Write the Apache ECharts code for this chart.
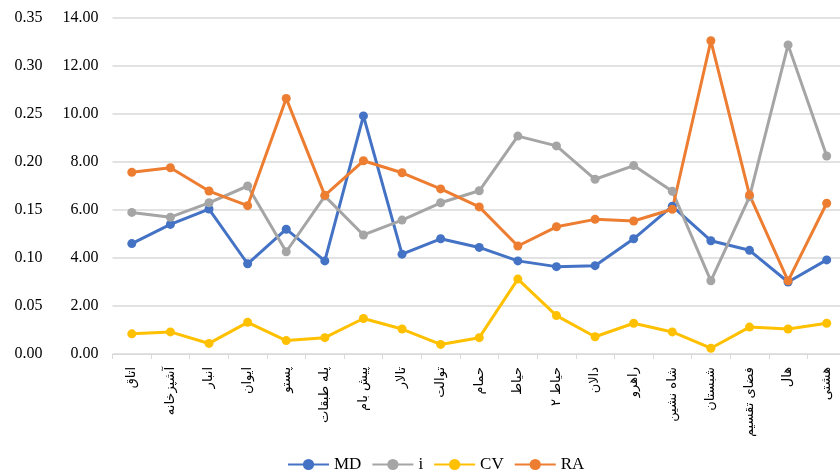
<!DOCTYPE html>
<html>
<head>
<meta charset="utf-8">
<style>
  html, body { margin: 0; padding: 0; background: #ffffff; overflow: hidden; }
  /* the drawing surface is a little wider than the window so the last category is cut at the edge */
  #chart { width: 846px; height: 472px; }
</style>
<script src="https://cdn.jsdelivr.net/npm/echarts@6/dist/echarts.min.js"></script>
</head>
<body>
<div id="chart"></div>
<script>
// Space types along the horizontal axis
var categories = ['اتاق', 'آشپزخانه', 'انبار', 'ایوان', 'پستو', 'پله طبقات', 'پیش بام', 'تالار', 'توالت', 'حمام',
  'حیاط', 'حیاط ۲', 'دالان', 'راهرو', 'شاه نشین', 'شبستان', 'فضای تقسیم', 'هال', 'هشتی'];

// Indicators on the 0–0.35 scale
var mdValues = [0.115, 0.135, 0.151, 0.094, 0.130, 0.097, 0.248, 0.104, 0.120, 0.111,
  0.097, 0.091, 0.092, 0.120, 0.154, 0.118, 0.108, 0.075, 0.098];
var cvValues = [0.021, 0.023, 0.011, 0.033, 0.014, 0.017, 0.037, 0.026, 0.010, 0.017,
  0.078, 0.040, 0.018, 0.032, 0.023, 0.006, 0.028, 0.026, 0.032];

// Indicators on the 0–14 scale
var iValues = [5.90, 5.70, 6.30, 7.00, 4.26, 6.58, 4.96, 5.58, 6.30, 6.80,
  9.08, 8.67, 7.28, 7.85, 6.78, 3.05, 6.55, 12.88, 8.25];
var raValues = [7.57, 7.76, 6.79, 6.18, 10.65, 6.61, 8.05, 7.55, 6.88, 6.13,
  4.50, 5.30, 5.61, 5.54, 6.03, 13.05, 6.63, 3.05, 6.28];

var serifFont = '"Liberation Serif", "Times New Roman", serif';
var arabicFont = '"DejaVu Sans", "Noto Sans", sans-serif';

function makeSeries(name, data, color, axisIndex) {
  return {
    name: name,
    type: 'line',
    yAxisIndex: axisIndex,
    data: data,
    symbol: 'circle',
    symbolSize: 9,
    showSymbol: true,
    lineStyle: { color: color, width: 3 },
    itemStyle: { color: color },
    emphasis: { disabled: true },
    animation: false
  };
}

var chart = echarts.init(document.getElementById('chart'), null, { renderer: 'canvas' });
chart.setOption({
  backgroundColor: '#ffffff',
  animation: false,
  grid: { left: 112.5, right: 0, top: 18, height: 336, containLabel: false },
  legend: {
    data: ['MD', 'i', 'CV', 'RA'],
    left: 282,
    top: 451,
    itemWidth: 41,
    itemHeight: 14,
    itemGap: 10,
    textStyle: { fontFamily: serifFont, fontSize: 17, color: '#000000' }
  },
  xAxis: {
    type: 'category',
    data: categories,
    boundaryGap: true,
    axisLine: { show: true, lineStyle: { color: '#d9d9d9', width: 1 } },
    axisTick: { show: true, length: 5, lineStyle: { color: '#d9d9d9' } },
    axisLabel: {
      rotate: 90,
      interval: 0,
      margin: 13,
      fontFamily: arabicFont,
      fontSize: 13,
      color: '#000000'
    },
    splitLine: { show: false }
  },
  yAxis: [
    {
      type: 'value',
      position: 'left',
      min: 0, max: 0.35, interval: 0.05,
      offset: 56,
      axisLine: { show: false },
      axisTick: { show: false },
      axisLabel: {
        margin: 14,
        fontFamily: serifFont, fontSize: 16, color: '#000000',
        formatter: function (v) { return v.toFixed(2); }
      },
      splitLine: { show: true, lineStyle: { color: '#d9d9d9', width: 1.5 } }
    },
    {
      type: 'value',
      position: 'left',
      min: 0, max: 14, interval: 2,
      offset: 0,
      axisLine: { show: false },
      axisTick: { show: false },
      axisLabel: {
        margin: 14,
        fontFamily: serifFont, fontSize: 16, color: '#000000',
        formatter: function (v) { return v.toFixed(2); }
      },
      splitLine: { show: false }
    }
  ],
  series: [
    makeSeries('MD', mdValues, '#4472C4', 0),
    makeSeries('i', iValues, '#A5A5A5', 1),
    makeSeries('CV', cvValues, '#FFC000', 0),
    makeSeries('RA', raValues, '#ED7D31', 1)
  ]
});
</script>
</body>
</html>
